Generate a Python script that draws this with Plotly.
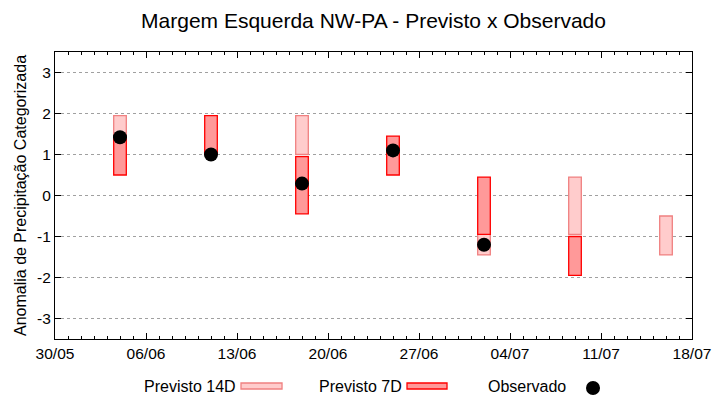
import plotly.graph_objects as go

# ---- data ----
dates = ["2024-06-04", "2024-06-11", "2024-06-18", "2024-06-25",
         "2024-07-02", "2024-07-09", "2024-07-16"]
p14_low = [1.45, None, 1.0, None, -1.45, -0.95, -1.45]
p14_high = [1.95, None, 1.95, None, -0.95, 0.45, -0.5]
p7_low = [0.5, 1.0, -0.45, 0.5, -0.95, -1.95, None]
p7_high = [1.45, 1.95, 0.95, 1.45, 0.45, -1.0, None]
observado = [1.42, 1.0, 0.29, 1.1, -1.2, None, None]

y_ticks = [-3, -2, -1, 0, 1, 2, 3]
y_labels = ["-3", "-2", "-1", "0", "1", "2", "3"]

DAY = 86400000


def span(lo, hi):
    return [None if (a is None or b is None) else b - a for a, b in zip(lo, hi)]


fig = go.Figure()
fig.add_trace(go.Bar(x=dates, y=span(p14_low, p14_high), base=p14_low,
                     width=DAY * 0.97, name="Previsto 14D",
                     marker=dict(color="#ffcccc", line=dict(color="#f08080", width=1.3))))
fig.add_trace(go.Bar(x=dates, y=span(p7_low, p7_high), base=p7_low,
                     width=DAY * 0.97, name="Previsto 7D",
                     marker=dict(color="#ff9999", line=dict(color="#ff0000", width=1.3))))
fig.add_trace(go.Scatter(x=dates, y=observado, mode="markers", name="Observado",
                         marker=dict(color="black", size=14)))

font = "Liberation Sans, Arial, sans-serif"
FS = 15.5
fig.update_layout(
    width=712, height=392,
    margin=dict(l=47, r=28, t=44, b=61, autoexpand=False),
    paper_bgcolor="white", plot_bgcolor="white",
    barmode="overlay", showlegend=False,
    font=dict(family=font, size=FS, color="black"),
    title=dict(text="Margem Esquerda NW-PA - Previsto x Observado",
               x=0.5, xref="paper", y=0.967, yref="container", yanchor="middle",
               font=dict(size=21, family=font, color="black")),
)
fig.update_xaxes(
    type="date", range=["2024-05-30", "2024-07-18"],
    tick0="2024-05-30", dtick=7 * DAY, tickformat="%d/%m",
    ticks="inside", ticklen=6, tickcolor="black",
    minor=dict(dtick=DAY, ticks="inside", ticklen=3, tickcolor="black", showgrid=False),
    showline=True, linecolor="black", linewidth=1, mirror="ticks",
    showgrid=False, zeroline=False,
    tickfont=dict(family=font, size=FS, color="black"),
)
fig.update_yaxes(
    range=[-3.5, 3.5], tickvals=y_ticks, ticktext=y_labels,
    ticks="inside", ticklen=6, tickcolor="black",
    showline=True, linecolor="black", linewidth=1, mirror="ticks",
    showgrid=True, gridcolor="#a0a0a0", griddash="dot", gridwidth=1,
    zeroline=False,
    title=dict(text="Anomalia de Precipitação Categorizada", standoff=6,
               font=dict(size=16, family=font, color="black")),
    tickfont=dict(size=FS, family=font, color="black"),
)

# ---- custom legend (text before symbol) ----
ly = -0.1638
for txt, xl in [("Previsto 14D", 0.1366), ("Previsto 7D", 0.4113), ("Observado", 0.6766)]:
    fig.add_annotation(text=txt, x=xl, y=ly, xref="paper", yref="paper",
                       xanchor="left", yanchor="middle", showarrow=False,
                       font=dict(size=16, family=font, color="black"))
fig.add_shape(type="rect", xref="paper", yref="paper", x0=0.292, x1=0.3564,
              y0=-0.1742, y1=-0.1533, fillcolor="#ffcccc", line=dict(color="#f08080", width=1.3))
fig.add_shape(type="rect", xref="paper", yref="paper", x0=0.5526, x1=0.6154,
              y0=-0.1742, y1=-0.1533, fillcolor="#ff9999", line=dict(color="#ff0000", width=1.3))
fig.add_shape(type="circle", xref="paper", yref="paper", x0=0.8446 - 0.011, x1=0.8446 + 0.011,
              y0=-0.1707 - 0.0244, y1=-0.1707 + 0.0244, fillcolor="black", line=dict(color="black", width=0))

fig.write_html("out.html")
